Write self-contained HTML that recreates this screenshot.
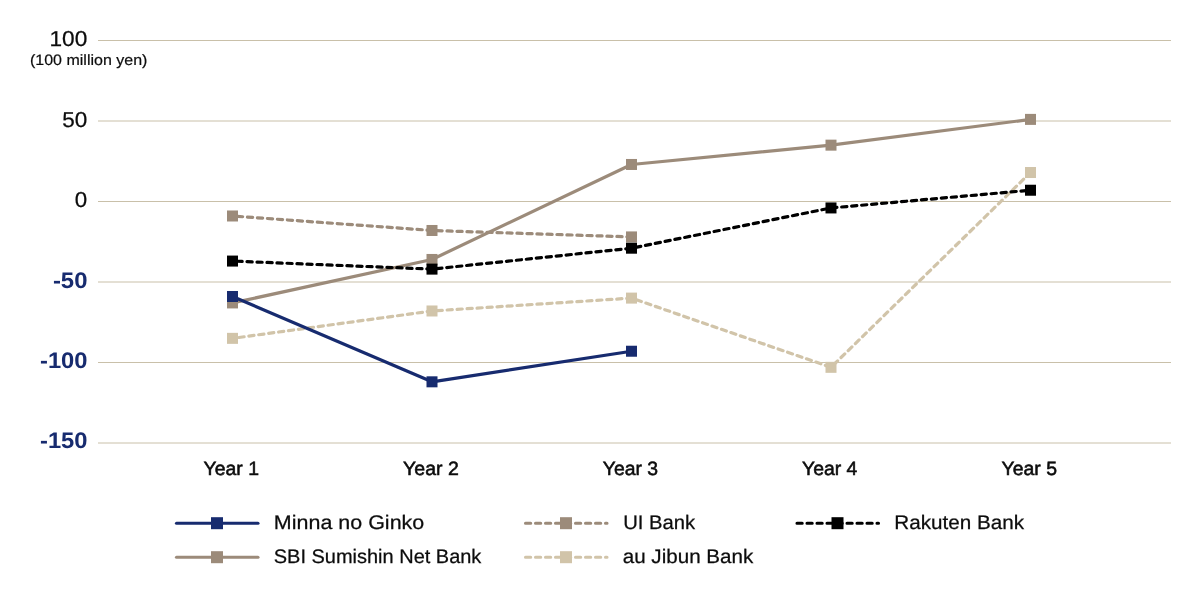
<!DOCTYPE html>
<html lang="en">
<head>
<meta charset="utf-8">
<title>Net bank profit chart</title>
<style>
html,body{margin:0;padding:0;background:#fff;}
body{width:1200px;height:590px;overflow:hidden;}
svg{display:block;}
text{font-family:"Liberation Sans",sans-serif;fill:#0c0c0c;text-rendering:geometricPrecision;}
.ax{font-size:21.6px;stroke:#0c0c0c;stroke-width:0.25px;}
.neg{font-size:22.4px;font-weight:bold;fill:#172b6f;stroke:none;}
.unit{font-size:15px;stroke:#0c0c0c;stroke-width:0.2px;}
.yr{font-size:19.3px;stroke:#0c0c0c;stroke-width:0.55px;}
.lg{font-size:19.6px;stroke:#0c0c0c;stroke-width:0.25px;}
.grid line{stroke:#c9c0a9;stroke-width:1;}
.ln{fill:none;stroke-width:3.2;stroke-linejoin:round;}
.dash{stroke-dasharray:5.2 4.8;stroke-linecap:round;}
</style>
</head>
<body>
<svg width="1200" height="590" viewBox="0 0 1200 590">
<rect width="1200" height="590" fill="#ffffff"/>
<g class="grid">
<line x1="98" y1="40.5" x2="1171" y2="40.5"/>
<line x1="98" y1="121.0" x2="1171" y2="121.0"/>
<line x1="98" y1="201.5" x2="1171" y2="201.5"/>
<line x1="98" y1="282.0" x2="1171" y2="282.0"/>
<line x1="98" y1="362.5" x2="1171" y2="362.5"/>
<line x1="98" y1="443.0" x2="1171" y2="443.0"/>
</g>
<text id="t100" class="ax" x="49.54" y="46.4" textLength="37.74" lengthAdjust="spacingAndGlyphs">100</text>
<text id="tunit" class="unit" x="30.01" y="64.8" textLength="117.37" lengthAdjust="spacingAndGlyphs">(100 million yen)</text>
<text id="t50" class="ax" x="62.22" y="126.9" textLength="25.01" lengthAdjust="spacingAndGlyphs">50</text>
<text id="t0" class="ax" x="74.89" y="207.4" textLength="12.42" lengthAdjust="spacingAndGlyphs">0</text>
<text id="tm50" class="ax neg" x="52.92" y="287.9" textLength="34.51" lengthAdjust="spacingAndGlyphs">-50</text>
<text id="tm100" class="ax neg" x="39.99" y="368.4" textLength="47.56" lengthAdjust="spacingAndGlyphs">-100</text>
<text id="tm150" class="ax neg" x="39.99" y="448.4" textLength="47.56" lengthAdjust="spacingAndGlyphs">-150</text>
<text id="y1" class="yr" x="203.59" y="475" textLength="55.42" lengthAdjust="spacingAndGlyphs">Year 1</text>
<text id="y2" class="yr" x="403.10" y="475" textLength="55.66" lengthAdjust="spacingAndGlyphs">Year 2</text>
<text id="y3" class="yr" x="602.78" y="475" textLength="55.31" lengthAdjust="spacingAndGlyphs">Year 3</text>
<text id="y4" class="yr" x="802.06" y="475" textLength="55.34" lengthAdjust="spacingAndGlyphs">Year 4</text>
<text id="y5" class="yr" x="1001.49" y="475" textLength="55.46" lengthAdjust="spacingAndGlyphs">Year 5</text>
<text id="l1" class="lg" x="273.89" y="529.3" textLength="150.39" lengthAdjust="spacingAndGlyphs">Minna no Ginko</text>
<text id="l2" class="lg" x="273.81" y="563.1" textLength="207.56" lengthAdjust="spacingAndGlyphs">SBI Sumishin Net Bank</text>
<text id="l3" class="lg" x="623.18" y="529.3" textLength="71.97" lengthAdjust="spacingAndGlyphs">UI Bank</text>
<text id="l4" class="lg" x="622.69" y="563.1" textLength="130.64" lengthAdjust="spacingAndGlyphs">au Jibun Bank</text>
<text id="l5" class="lg" x="894.33" y="529.3" textLength="129.80" lengthAdjust="spacingAndGlyphs">Rakuten Bank</text>
<g fill="#d1c4a9" stroke="none"><polyline class="ln dash" stroke="#d1c4a9" stroke-dashoffset="-6.5" points="232.5,338.35 432.0,310.98 631.5,298.1 831.0,367.33 1030.5,172.52"/>
<rect x="227.0" y="332.85" width="11" height="11"/>
<rect x="426.5" y="305.48" width="11" height="11"/>
<rect x="626.0" y="292.6" width="11" height="11"/>
<rect x="825.5" y="361.83" width="11" height="11"/>
<rect x="1025.0" y="167.02" width="11" height="11"/>
</g>
<g fill="#9c8b7a" stroke="none"><polyline class="ln dash" stroke="#9c8b7a" stroke-dashoffset="-5.0" points="232.5,215.99 432.0,230.48 631.5,236.92"/>
<rect x="227.0" y="210.49" width="11" height="11"/>
<rect x="426.5" y="224.98" width="11" height="11"/>
<rect x="626.0" y="231.42" width="11" height="11"/>
</g>
<g fill="#9c8b7a" stroke="none"><polyline class="ln" stroke="#9c8b7a" points="232.5,302.93 432.0,259.46 631.5,164.47 831.0,145.15 1030.5,119.39"/>
<rect x="227.0" y="297.43" width="11" height="11"/>
<rect x="426.5" y="253.96" width="11" height="11"/>
<rect x="626.0" y="158.97" width="11" height="11"/>
<rect x="825.5" y="139.65" width="11" height="11"/>
<rect x="1025.0" y="113.89" width="11" height="11"/>
</g>
<g fill="#000000" stroke="none"><polyline class="ln dash" stroke="#000000" stroke-dashoffset="-4.5" points="232.5,261.07 432.0,269.12 631.5,248.19 831.0,207.94 1030.5,190.23"/>
<rect x="227.0" y="255.57" width="11" height="11"/>
<rect x="426.5" y="263.62" width="11" height="11"/>
<rect x="626.0" y="242.69" width="11" height="11"/>
<rect x="825.5" y="202.44" width="11" height="11"/>
<rect x="1025.0" y="184.73" width="11" height="11"/>
</g>
<g fill="#172b6f" stroke="none"><polyline class="ln" stroke="#172b6f" points="232.5,296.49 432.0,381.82 631.5,351.23"/>
<rect x="227.0" y="290.99" width="11" height="11"/>
<rect x="426.5" y="376.32" width="11" height="11"/>
<rect x="626.0" y="345.73" width="11" height="11"/>
</g>
<line x1="176.5" y1="523.2" x2="258" y2="523.2" stroke="#172b6f" stroke-width="3.1" stroke-linecap="round"/>
<rect x="211" y="517.2" width="12" height="12" fill="#172b6f"/>
<line x1="176.5" y1="557.2" x2="258" y2="557.2" stroke="#9c8b7a" stroke-width="3.1" stroke-linecap="round"/>
<rect x="211" y="551.2" width="12" height="12" fill="#9c8b7a"/>
<line x1="525.5" y1="523.2" x2="607" y2="523.2" stroke="#9c8b7a" stroke-width="3.1" stroke-linecap="round" stroke-dasharray="5.2 4.8"/>
<rect x="560" y="517.2" width="12" height="12" fill="#9c8b7a"/>
<line x1="525.5" y1="557.2" x2="607" y2="557.2" stroke="#d1c4a9" stroke-width="3.1" stroke-linecap="round" stroke-dasharray="5.2 4.8"/>
<rect x="560" y="551.2" width="12" height="12" fill="#d1c4a9"/>
<line x1="797.0" y1="523.2" x2="878.5" y2="523.2" stroke="#000000" stroke-width="3.1" stroke-linecap="round" stroke-dasharray="5.2 4.8"/>
<rect x="831.5" y="517.2" width="12" height="12" fill="#000000"/>
</svg>
</body>
</html>
